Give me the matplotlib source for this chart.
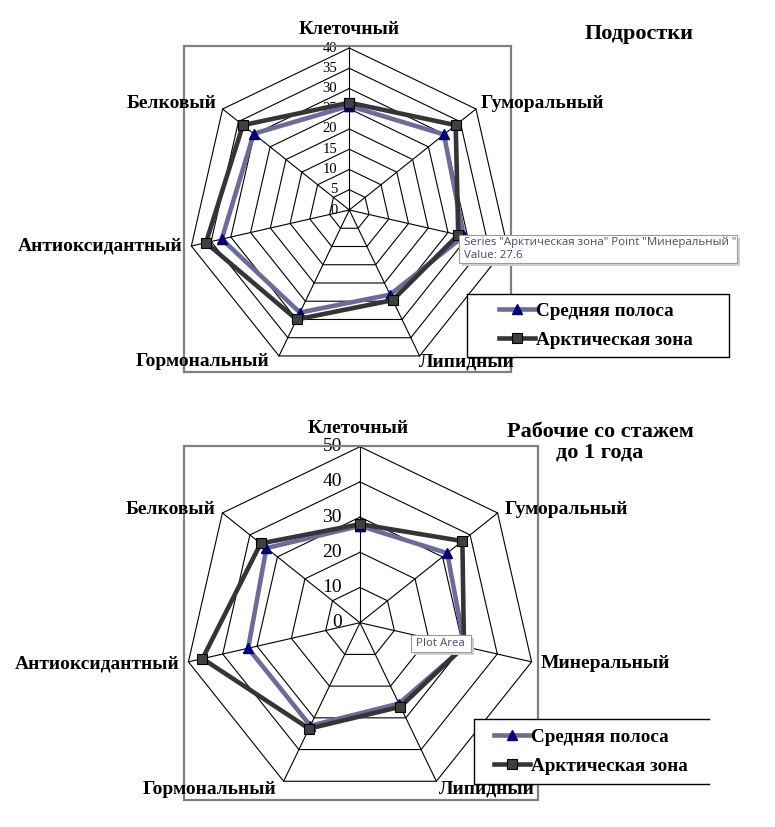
import numpy as np
import matplotlib
matplotlib.use("Agg")
import matplotlib.pyplot as plt
from matplotlib.patches import Rectangle
from matplotlib.lines import Line2D

W, H = 775, 827
SERIF = "Liberation Serif"

categories = ['Клеточный', 'Гуморальный', 'Минеральный', 'Липидный',
              'Гормональный', 'Антиоксидантный', 'Белковый']
series_names = ['Средняя полоса', 'Арктическая зона']

# Подростки
teen_mid = [25.7, 29.9, 29.0, 23.2, 28.1, 32.3, 30.2]
teen_arctic = [26.5, 33.6, 27.6, 24.7, 30.0, 36.3, 33.6]
teen_ticks = [0, 5, 10, 15, 20, 25, 30, 35, 40]

# Рабочие со стажем до 1 года
work_mid = [27.5, 31.7, 30.5, 25.5, 32.5, 32.6, 34.0]
work_arctic = [28.0, 37.2, 30.3, 26.5, 33.4, 45.9, 36.1]
work_ticks = [0, 10, 20, 30, 40, 50]

MID_COLOR = "#6b6b9e"
MID_MARK = "#000080"
ARC_COLOR = "#353535"
ARC_MARK = "#404040"
LW = 3.3


def fx(x):
    return x / W


def fy(y):
    return 1 - y / H


fig = plt.figure(figsize=(W / 100, H / 100), dpi=100)


def radar(cx, cy, R, ticks, mid, arc, tick_fs, tick_off):
    ax = fig.add_axes([fx(cx - R), fy(cy + R), 2 * R / W, 2 * R / H],
                      projection='polar')
    ax.set_theta_zero_location('N')
    ax.set_theta_direction(-1)
    ax.set_ylim(0, ticks[-1])
    ax.axis('off')
    n = len(categories)
    th = np.linspace(0, 2 * np.pi, n, endpoint=False)
    thc = np.append(th, th[0])
    for t in ticks[1:]:
        ax.plot(thc, [t] * (n + 1), color='black', lw=0.8, clip_on=False, zorder=1)
    for a in th:
        ax.plot([a, a], [0, ticks[-1]], color='black', lw=0.8, clip_on=False, zorder=1)
    for t in ticks:
        ax.annotate(str(t), (0, t), xytext=(-tick_off, 0), textcoords='offset pixels',
                    ha='right', va='center', family=SERIF, fontsize=tick_fs,
                    annotation_clip=False, zorder=2)
    ax.plot(thc, mid + mid[:1], color=MID_COLOR, lw=LW, marker='^',
            markersize=7, markerfacecolor=MID_MARK, markeredgecolor=MID_MARK,
            clip_on=False, zorder=3)
    ax.plot(thc, arc + arc[:1], color=ARC_COLOR, lw=LW, marker='s',
            markersize=7.5, markerfacecolor=ARC_MARK, markeredgecolor='black',
            markeredgewidth=0.8, clip_on=False, zorder=4)
    return ax


radar(349.3, 210, 162, teen_ticks, teen_mid, teen_arctic, 10.5, 12)
radar(360, 622.7, 176, work_ticks, work_mid, work_arctic, 14, 18)

# plot area borders
for (x0, y0, x1, y1) in [(184, 46, 511, 372), (184, 446, 538, 800)]:
    fig.patches.append(Rectangle((fx(x0), fy(y1)), (x1 - x0) / W, (y1 - y0) / H,
                                 transform=fig.transFigure, fill=False,
                                 edgecolor='#808080', lw=1.6, zorder=1))

# category labels
top_lab = [(349, 29, 'center'), (481, 104, 'left'), (512, 247, 'left'),
           (467, 362, 'center'), (203, 362, 'center'), (183, 246, 'right'),
           (217, 104, 'right')]
bot_lab = [(358, 428, 'center'), (505, 509, 'left'), (541, 664, 'left'),
           (487, 789, 'center'), (210, 789, 'center'), (180, 664, 'right'),
           (216, 509, 'right')]
for labs in (top_lab, bot_lab):
    for name, (x, y, ha) in zip(categories, labs):
        fig.text(fx(x), fy(y), name, ha=ha, va='center', family=SERIF,
                 fontweight='bold', fontsize=14, zorder=3)

fig.text(fx(639), fy(34), 'Подростки', ha='center', va='center', family=SERIF,
         fontweight='bold', fontsize=16)
fig.text(fx(600), fy(442), 'Рабочие со стажем\nдо 1 года', ha='center',
         va='center', family=SERIF, fontweight='bold', fontsize=16,
         linespacing=1.05)

# legends
handles = [Line2D([], [], color=MID_COLOR, lw=LW, marker='^', markersize=7,
                  markerfacecolor=MID_MARK, markeredgecolor=MID_MARK),
           Line2D([], [], color=ARC_COLOR, lw=LW, marker='s', markersize=7.5,
                  markerfacecolor=ARC_MARK, markeredgecolor='black',
                  markeredgewidth=0.8)]


def legend(x0, y0, x1, y1, hx, open_right=False):
    xs = [x1, x0, x0, x1] if open_right else [x0, x1, x1, x0, x0]
    ys = [y0, y0, y1, y1] if open_right else [y0, y0, y1, y1, y0]
    fig.lines.append(Line2D([fx(v) for v in xs], [fy(v) for v in ys],
                            transform=fig.transFigure, color='black', lw=1.0,
                            zorder=5))
    fig.patches.append(Rectangle((fx(x0), fy(y1)), (x1 - x0) / W, (y1 - y0) / H,
                                 transform=fig.transFigure, facecolor='white',
                                 edgecolor='none', zorder=4))
    lg = fig.legend(handles, series_names, loc='center left',
                    bbox_to_anchor=(fx(hx), fy((y0 + y1) / 2)),
                    frameon=False, handlelength=1.9, handletextpad=0.05,
                    labelspacing=0.62, borderaxespad=0, borderpad=0,
                    prop=dict(family=SERIF, weight='bold', size=13.75))
    lg.set_zorder(6)


legend(467, 294, 729, 357, 499)
legend(474, 719, 709, 784, 494, open_right=True)

# tooltips
TIP_FONT = "Open Sans"


def tooltip(x0, y0, x1, y1, lines):
    fig.patches.append(Rectangle((fx(x0 + 3), fy(y1 + 3)), (x1 - x0) / W, (y1 - y0) / H,
                                 transform=fig.transFigure, facecolor='#d0d0d0',
                                 edgecolor='none', zorder=9))
    fig.patches.append(Rectangle((fx(x0), fy(y1)), (x1 - x0) / W, (y1 - y0) / H,
                                 transform=fig.transFigure, facecolor='white',
                                 edgecolor='#9a9a9a', lw=0.8, zorder=10))
    fig.text(fx(x0 + 5), fy((y0 + y1) / 2), lines, ha='left', va='center',
             family=TIP_FONT, fontsize=8.25, color='#4a4a6a', zorder=11,
             linespacing=1.2)


tooltip(459, 235, 737, 263,
        'Series "Арктическая зона" Point "Минеральный "\nValue: 27.6')
tooltip(411, 635, 471, 652, 'Plot Area')

fig.savefig("out.png", dpi=100)
